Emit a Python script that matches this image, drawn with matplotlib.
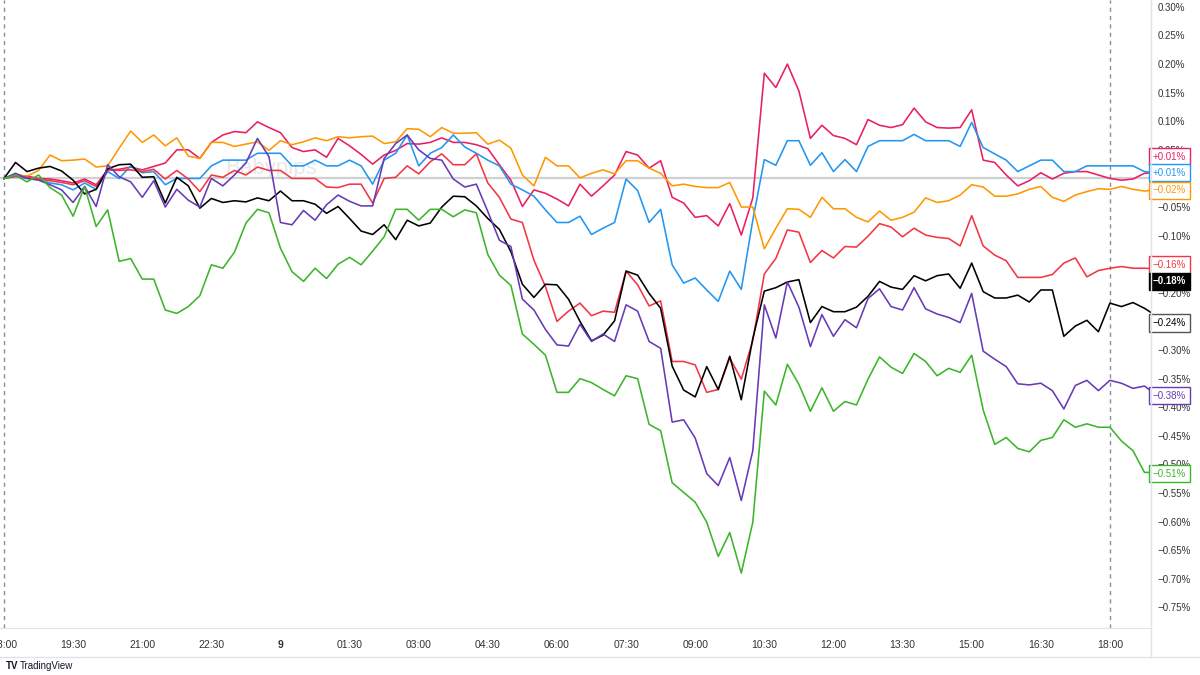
import matplotlib
matplotlib.use("Agg")
import matplotlib.pyplot as plt
import matplotlib.transforms as mtransforms
from matplotlib.lines import Line2D
import numpy as np

# percent change, one value every 15 minutes from 18:00 (day 8) to 19:00 (day 9)
pink = [0, 0.006, 0.004, 0, -0.001, -0.004, -0.008, -0.001, -0.011, 0.015,
        0.016, 0.020, 0.015, 0.021, 0.027, 0.050, 0.050, 0.035, 0.063, 0.076,
        0.082, 0.080, 0.099, 0.089, 0.080, 0.054, 0.047, 0.050, 0.037, 0.070,
        0.057, 0.042, 0.025, 0.041, 0.049, 0.061, 0.060, 0.063, 0.071, 0.063,
        0.063, 0.059, 0.052, 0.024, -0.003, -0.049, -0.020, -0.026, -0.036, -0.048,
        -0.010, -0.031, -0.013, 0.006, 0.047, 0.041, 0.018, 0.031, -0.033, -0.043,
        -0.068, -0.065, -0.083, -0.044, -0.099, -0.034, 0.184, 0.159, 0.200, 0.153,
        0.070, 0.093, 0.075, 0.070, 0.059, 0.103, 0.093, 0.089, 0.094, 0.123,
        0.099, 0.089, 0.088, 0.089, 0.120, 0.032, 0.028, 0.006, -0.013, -0.004,
        0.010, -0.001, 0.009, 0.012, 0.012, 0.006, 0.000, -0.003, -0.001, 0.009,
        0.010]
blue = [0, 0.003, 0, -0.002, -0.008, -0.011, -0.020, -0.008, -0.019, 0.012,
        0, 0.022, 0.010, 0.012, -0.011, 0, 0, 0, 0.022, 0.032,
        0.032, 0.032, 0.044, 0.044, 0.044, 0.022, 0.022, 0.032, 0.022, 0.022,
        0.032, 0.022, -0.010, 0.032, 0.044, 0.076, 0.022, 0.044, 0.054, 0.076,
        0.055, 0.044, 0.032, 0.022, -0.010, -0.020, -0.031, -0.055, -0.077, -0.077,
        -0.066, -0.098, -0.087, -0.077, -0.001, -0.021, -0.077, -0.054, -0.151, -0.183,
        -0.174, -0.195, -0.215, -0.162, -0.194, -0.073, 0.033, 0.023, 0.066, 0.066,
        0.023, 0.045, 0.012, 0.033, 0.012, 0.056, 0.066, 0.066, 0.066, 0.077,
        0.066, 0.066, 0.066, 0.056, 0.098, 0.054, 0.043, 0.032, 0.012, 0.022,
        0.032, 0.032, 0.012, 0.012, 0.022, 0.022, 0.022, 0.022, 0.022, 0.012,
        0.010]
orange = [0, 0.006, 0.004, 0.014, 0.041, 0.031, 0.032, 0.034, 0.020, 0.022,
          0.053, 0.083, 0.063, 0.076, 0.057, 0.071, 0.039, 0.035, 0.063, 0.063,
          0.056, 0.060, 0.064, 0.049, 0.066, 0.059, 0.064, 0.071, 0.066, 0.073,
          0.071, 0.073, 0.074, 0.061, 0.064, 0.087, 0.086, 0.073, 0.089, 0.079,
          0.079, 0.080, 0.060, 0.067, 0.053, 0.006, -0.013, 0.037, 0.022, 0.022,
          0.001, 0.009, 0.015, 0.008, 0.031, 0.031, 0.018, 0.009, -0.013, -0.010,
          -0.014, -0.016, -0.016, -0.007, -0.050, -0.050, -0.123, -0.087, -0.053, -0.054,
          -0.068, -0.033, -0.053, -0.053, -0.068, -0.076, -0.057, -0.073, -0.068, -0.059,
          -0.034, -0.042, -0.039, -0.029, -0.011, -0.015, -0.031, -0.031, -0.027, -0.019,
          -0.014, -0.033, -0.040, -0.029, -0.023, -0.018, -0.019, -0.014, -0.019, -0.022,
          -0.020]
red = [0, 0.004, 0.002, -0.001, -0.004, -0.007, -0.011, -0.004, -0.014, 0.015,
       0.014, 0.015, 0.012, 0.016, -0.001, 0.014, -0.001, -0.023, 0.006, 0.002,
       0.014, 0.006, 0.020, 0.014, 0.014, 0.000, 0.000, 0.000, -0.015, -0.016,
       -0.010, -0.010, -0.043, 0.000, 0.002, 0.022, 0.008, 0.029, 0.043, 0.024,
       0.024, 0.043, -0.008, -0.033, -0.071, -0.077, -0.143, -0.189, -0.250, -0.232,
       -0.218, -0.240, -0.232, -0.234, -0.162, -0.186, -0.223, -0.214, -0.320, -0.320,
       -0.326, -0.374, -0.369, -0.314, -0.351, -0.283, -0.167, -0.140, -0.090, -0.094,
       -0.147, -0.126, -0.139, -0.119, -0.120, -0.101, -0.079, -0.085, -0.102, -0.087,
       -0.099, -0.103, -0.105, -0.118, -0.065, -0.118, -0.134, -0.144, -0.173, -0.173,
       -0.173, -0.168, -0.148, -0.139, -0.172, -0.161, -0.157, -0.154, -0.157, -0.157,
       -0.158]
black = [0, 0.028, 0.012, 0.018, 0.021, 0.013, -0.003, -0.027, -0.019, 0.017,
         0.024, 0.025, 0.002, 0.003, -0.043, 0.002, -0.013, -0.052, -0.035, -0.042,
         -0.039, -0.041, -0.034, -0.039, -0.022, -0.039, -0.039, -0.045, -0.061, -0.049,
         -0.070, -0.092, -0.098, -0.081, -0.107, -0.073, -0.083, -0.078, -0.050, -0.031,
         -0.032, -0.048, -0.070, -0.089, -0.128, -0.185, -0.208, -0.185, -0.186, -0.211,
         -0.250, -0.284, -0.274, -0.249, -0.162, -0.169, -0.201, -0.227, -0.328, -0.370,
         -0.382, -0.329, -0.369, -0.311, -0.387, -0.280, -0.197, -0.191, -0.181, -0.177,
         -0.252, -0.224, -0.233, -0.233, -0.225, -0.206, -0.180, -0.190, -0.194, -0.170,
         -0.179, -0.170, -0.167, -0.192, -0.148, -0.198, -0.209, -0.209, -0.204, -0.216,
         -0.195, -0.195, -0.276, -0.258, -0.248, -0.268, -0.218, -0.224, -0.217, -0.227,
         -0.240]
purple = [0, 0.009, 0, -0.003, -0.011, -0.020, -0.042, -0.014, -0.049, 0.024,
          0.003, -0.006, -0.033, -0.004, -0.050, -0.019, -0.038, -0.050, 0.000, -0.013,
          0.006, 0.027, 0.070, 0.038, -0.077, -0.081, -0.056, -0.073, -0.046, -0.029,
          -0.040, -0.048, -0.048, 0.035, 0.061, 0.076, 0.050, 0.035, 0.032, -0.001,
          -0.015, -0.010, -0.058, -0.108, -0.119, -0.211, -0.230, -0.264, -0.291, -0.293,
          -0.255, -0.285, -0.272, -0.285, -0.221, -0.232, -0.285, -0.297, -0.426, -0.422,
          -0.454, -0.516, -0.537, -0.488, -0.563, -0.476, -0.221, -0.279, -0.181, -0.225,
          -0.294, -0.238, -0.276, -0.247, -0.261, -0.210, -0.193, -0.224, -0.230, -0.191,
          -0.228, -0.237, -0.243, -0.252, -0.201, -0.302, -0.316, -0.329, -0.359, -0.361,
          -0.358, -0.371, -0.403, -0.362, -0.353, -0.371, -0.353, -0.358, -0.367, -0.363,
          -0.378]
green = [0, 0.006, -0.006, 0.006, -0.016, -0.029, -0.066, -0.014, -0.084, -0.055,
         -0.145, -0.140, -0.176, -0.176, -0.230, -0.236, -0.224, -0.205, -0.151, -0.157,
         -0.129, -0.078, -0.054, -0.060, -0.122, -0.163, -0.180, -0.157, -0.175, -0.150,
         -0.138, -0.151, -0.127, -0.102, -0.054, -0.054, -0.073, -0.054, -0.054, -0.067,
         -0.055, -0.060, -0.133, -0.169, -0.187, -0.272, -0.290, -0.309, -0.374, -0.374,
         -0.350, -0.357, -0.369, -0.380, -0.345, -0.350, -0.430, -0.441, -0.532, -0.549,
         -0.566, -0.601, -0.661, -0.619, -0.690, -0.601, -0.372, -0.396, -0.325, -0.360,
         -0.407, -0.366, -0.407, -0.390, -0.396, -0.351, -0.312, -0.330, -0.341, -0.306,
         -0.320, -0.345, -0.332, -0.339, -0.309, -0.405, -0.465, -0.453, -0.472, -0.478,
         -0.458, -0.453, -0.422, -0.435, -0.429, -0.435, -0.435, -0.459, -0.476, -0.514,
         -0.514]

series = [pink, blue, orange, red, black, purple, green]
colors = ["#E91E63", "#2196F3", "#FF9800", "#F23645", "#000000", "#673AB7", "#3CB52A"]

# last-value tags on the price scale
tag_text = ["+0.01%", "+0.01%", "\u22120.02%", "\u22120.16%", "\u22120.18%", "\u22120.24%", "\u22120.38%", "\u22120.51%"]
tag_y = [0.038, 0.010, -0.021, -0.151, -0.180, -0.253, -0.380, -0.516]
tag_edge = ["#E91E63", "#2196F3", "#FF9800", "#F23645", "#000000", "#555555", "#673AB7", "#3CB52A"]
tag_face = ["white"] * 4 + ["#000000"] + ["white"] * 3
tag_color = ["#E91E63", "#2196F3", "#FF9800", "#F23645", "white", "#000000", "#673AB7", "#3CB52A"]

time_ticks = np.arange(0, 24.1, 1.5)
time_labels = ["18:00", "19:30", "21:00", "22:30", "9", "01:30", "03:00", "04:30", "06:00",
               "07:30", "09:00", "10:30", "12:00", "13:30", "15:00", "16:30", "18:00"]

hours = np.arange(len(pink)) * 0.25

plt.rcParams["font.family"] = ["Liberation Sans", "DejaVu Sans"]

fig = plt.figure(figsize=(12, 6.75), dpi=100)
ax = fig.add_axes([0, 1 - 628 / 675, 1151 / 1200, 628 / 675])

ax.text(5.79, 0.017, "Babypips", fontsize=16, color="#e8e8e8", ha="center", va="center", zorder=0)
ax.axhline(0, color="#cfd0d4", lw=1.6, zorder=1)
ax.axvline(0, color="#8a8d96", lw=1, ls=(0, (3, 3)), zorder=1)
ax.axvline(24, color="#8a8d96", lw=1, ls=(0, (3, 3)), zorder=1)

for vals, c in zip(series, colors):
    ax.plot(hours, vals, color=c, lw=1.15, zorder=3)

ax.set_xlim(-4 / 46.08, 1147 / 46.08)
ax.set_ylim(-0.786, 0.312)

for s in ["top", "left"]:
    ax.spines[s].set_visible(False)
ax.spines["bottom"].set_color("#e0e3eb")
ax.spines["right"].set_color("#e0e3eb")

ax.set_xticks(time_ticks)
ax.set_xticklabels(time_labels)
ax.tick_params(axis="x", length=0, pad=9, labelsize=7.5, labelcolor="#333333")
ax.get_xticklabels()[4].set_fontweight("bold")

yt = np.round(np.arange(-0.75, 0.301, 0.05), 2)
ax.yaxis.tick_right()
ax.set_yticks(yt)
ax.set_yticklabels([("%.2f%%" % v).replace("-", "\u2212") for v in yt])
ax.tick_params(axis="y", length=0, pad=5, labelsize=7, labelcolor="#333333")

trans = mtransforms.blended_transform_factory(ax.transAxes, ax.transData)
for i, (t, y, ec, fc, tc) in enumerate(zip(tag_text, tag_y, tag_edge, tag_face, tag_color)):
    ax.text(1.0015, y, t, transform=trans, ha="left", va="center", fontsize=7, color=tc,
            fontweight="bold" if fc != "white" else "normal",
            clip_on=False, zorder=10,
            bbox=dict(boxstyle="square,pad=0.38", facecolor=fc, edgecolor=ec, lw=1))

# time scale frame and right scale border
fig.add_artist(Line2D([0, 1], [1 - 657 / 675] * 2, color="#e0e3eb", lw=1))
fig.add_artist(Line2D([1151 / 1200] * 2, [1 - 657 / 675, 1], color="#e0e3eb", lw=1))

fig.text(6 / 1200, 1 - 666 / 675, "TV", fontsize=7, fontweight="bold", color="#131722", va="center")
fig.text(20 / 1200, 1 - 666 / 675, "TradingView", fontsize=7, color="#131722", va="center")

fig.savefig("out.png", dpi=100, facecolor="white")
